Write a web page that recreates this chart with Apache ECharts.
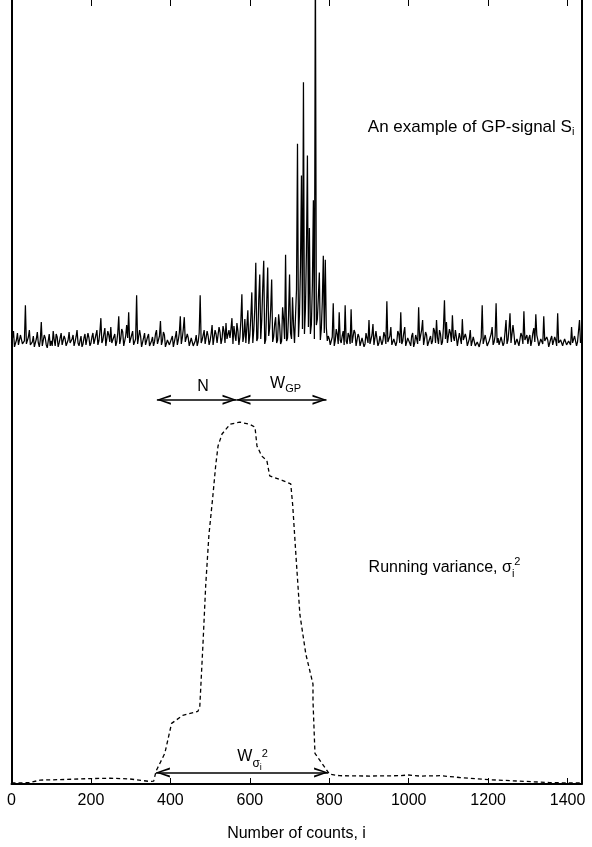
<!DOCTYPE html>
<html>
<head>
<meta charset="utf-8">
<script src="https://cdn.jsdelivr.net/npm/echarts@6/dist/echarts.min.js"></script>
<style>
  html, body { margin: 0; padding: 0; background: #fff; }
  #main { width: 592px; height: 847px; }
</style>
</head>
<body>
<div id="main"></div>
<script>
// GP-signal S_i, one reading every 2.5 counts (height above the noise floor)
const sigStep = 2.5
const signal = [
  0.6, 1.1, 1.8, 0.2, 0.3, 0.9, 1.6, 0.4, 0.2, 1.4, 1.2, 0.5, 0.3, 0.8, 4.4, 0.5, 0.6, 1.2, 1.9, 0.4,
  0.3, 0.7, 1.3, 0.2, 0.6, 1.0, 1.7, 0.6, 0.2, 0.9, 2.7, 0.3, 0.5, 1.4, 1.1, 0.4, 0.1, 0.8, 1.5, 0.3,
  0.8, 0.3, 1.8, 0.9, 0.3, 1.5, 1.2, 0.2, 0.6, 1.1, 1.6, 0.4, 0.2, 1.3, 1.0, 0.3, 0.5, 0.9, 1.7, 0.6,
  0.4, 1.0, 1.4, 0.3, 0.7, 1.2, 1.9, 0.6, 0.3, 0.8, 1.3, 0.2, 0.5, 1.1, 1.5, 0.4, 0.2, 1.6, 1.1, 0.3,
  0.6, 1.2, 1.6, 0.5, 0.3, 1.4, 1.9, 0.4, 0.8, 1.7, 3.1, 0.6, 0.9, 1.5, 2.1, 0.3, 0.4, 1.8, 1.4, 0.7,
  2.2, 0.6, 0.5, 1.2, 1.5, 0.3, 0.7, 1.6, 3.3, 0.5, 1.0, 2.0, 1.7, 0.3, 0.4, 1.3, 2.4, 1.1, 3.7, 0.6,
  0.8, 1.4, 1.8, 0.4, 0.5, 1.0, 5.4, 0.5, 0.7, 1.9, 1.3, 0.2, 0.3, 1.1, 1.6, 0.4, 0.6, 1.2, 1.5, 0.3,
  0.2, 0.8, 1.2, 0.3, 0.7, 1.5, 1.9, 0.5, 0.4, 1.3, 2.8, 0.4, 0.8, 1.7, 1.4, 0.2, 0.1, 0.9, 1.0, 0.4,
  0.5, 1.0, 1.3, 0.2, 0.3, 1.2, 1.8, 0.4, 0.9, 1.6, 3.3, 0.5, 1.1, 2.0, 3.2, 0.7, 0.6, 1.5, 1.1, 0.3,
  0.2, 1.1, 0.9, 0.3, 0.1, 0.8, 1.4, 0.3, 0.7, 1.6, 5.4, 0.6, 0.9, 1.4, 1.9, 0.5, 0.5, 1.8, 1.3, 0.4,
  0.8, 1.5, 2.4, 0.4, 0.5, 1.9, 1.5, 0.6, 0.7, 2.2, 1.7, 0.5, 1.0, 2.3, 1.8, 0.6, 2.6, 1.0, 0.8, 1.9,
  1.1, 2.0, 3.1, 0.5, 2.3, 1.4, 0.8, 2.6, 1.8, 0.4, 1.2, 2.9, 5.5, 0.7, 1.3, 3.0, 0.6, 2.2, 3.9, 0.5,
  1.4, 3.2, 5.7, 0.6, 1.9, 4.1, 8.7, 0.8, 1.1, 5.0, 7.5, 1.0, 2.9, 6.2, 8.9, 0.5, 0.9, 4.6, 8.2, 1.3,
  2.1, 4.0, 7.0, 0.7, 1.2, 2.5, 3.2, 0.6, 0.9, 3.5, 2.4, 0.5, 0.8, 4.2, 3.0, 1.0, 9.5, 0.8, 1.1, 3.4,
  7.5, 1.6, 1.0, 5.2, 2.4, 0.6, 0.8, 6.0, 20.7, 1.2, 3.5, 8.3, 17.5, 2.0, 26.9, 1.5, 4.0, 9.8, 19.5, 2.2,
  12.2, 1.5, 2.5, 6.5, 15.0, 1.0, 40, 2.4, 3.0, 5.2, 7.7, 0.9, 2.0, 4.8, 9.4, 1.6, 9.0, 2.2, 0.8, 1.3,
  1.0, 0.4, 0.3, 1.2, 4.6, 0.3, 0.8, 2.0, 1.5, 0.5, 3.7, 0.9, 0.6, 1.3, 1.8, 0.4, 4.4, 0.8, 0.5, 1.6,
  1.3, 0.5, 4.0, 0.6, 0.7, 1.9, 1.6, 0.3, 0.4, 1.5, 1.2, 0.3, 0.2, 1.1, 1.0, 0.2, 0.5, 1.6, 1.4, 0.6,
  2.9, 0.5, 0.7, 1.4, 2.5, 0.4, 1.1, 1.8, 2.0, 0.3, 0.6, 1.3, 1.5, 0.4, 0.8, 1.7, 1.3, 0.5, 4.8, 0.7,
  0.5, 1.3, 2.2, 0.4, 0.3, 1.0, 1.2, 0.3, 0.7, 1.8, 1.5, 0.6, 3.7, 0.5, 0.8, 1.6, 2.2, 0.3, 0.4, 1.1,
  1.2, 0.6, 0.3, 1.3, 1.6, 0.2, 0.6, 1.4, 1.0, 0.5, 4.2, 0.8, 0.7, 1.9, 2.9, 0.4, 0.5, 1.7, 1.4, 0.3,
  0.4, 1.0, 1.3, 0.5, 0.8, 2.1, 1.8, 0.6, 2.9, 1.1, 0.5, 1.9, 1.5, 0.4, 0.7, 2.2, 4.9, 1.0, 2.7, 0.6,
  0.6, 2.0, 1.6, 0.7, 3.4, 1.2, 0.8, 1.9, 1.2, 0.3, 0.4, 1.6, 1.4, 0.5, 3.0, 0.9, 0.7, 1.5, 1.1, 0.3,
  0.3, 1.0, 1.9, 0.3, 0.5, 1.2, 1.0, 0.3, 0.2, 0.7, 0.9, 0.2, 0.4, 1.1, 4.4, 0.5, 0.6, 1.4, 1.3, 0.3,
  0.3, 0.8, 1.0, 1.5, 2.2, 0.4, 0.7, 1.3, 4.6, 0.6, 1.1, 0.4, 0.4, 1.2, 1.3, 0.3, 0.6, 1.7, 2.9, 0.5,
  0.9, 2.0, 3.6, 0.6, 0.8, 2.4, 1.5, 0.4, 0.3, 1.0, 1.1, 0.3, 0.5, 1.6, 1.3, 0.5, 3.8, 0.9, 0.7, 1.4,
  0.5, 1.1, 1.4, 0.3, 0.8, 1.6, 2.1, 0.7, 3.5, 1.4, 0.9, 0.3, 0.4, 1.0, 1.2, 0.5, 3.3, 0.8, 0.6, 1.2,
  0.9, 0.2, 0.3, 1.0, 1.3, 0.4, 0.5, 1.2, 0.9, 0.3, 3.6, 0.6, 0.4, 0.9, 1.1, 0.3, 0.7, 1.0, 1.2, 0.4,
  0.3, 0.8, 1.0, 0.4, 2.2, 0.6, 0.5, 1.3, 1.1, 0.3, 0.7, 1.8, 2.9, 0.6
]

// running variance, read at the corners of the dashed curve
const varCounts = [0, 21, 47, 72, 122, 197, 248, 298, 348, 358, 364, 386, 403, 431, 469, 474,
  482, 489, 497, 507, 514, 520, 530, 550, 575, 600, 613, 618, 630, 643, 650, 683, 703,
  708, 716, 726, 741, 759, 759, 764, 794, 801, 826, 902, 977, 1000, 1028, 1081, 1128,
  1201, 1279, 1355, 1400, 1433]
const varValues = [0.3, 0.3, 0.4, 1.1, 1.2, 1.5, 1.6, 1.4, 0.7, 0.8, 3.6, 8.5, 16.8, 19.0, 20.1, 21.4,
  38.7, 55.2, 69.0, 79.9, 88.2, 93.7, 97.0, 99.7, 100.3, 99.7, 98.9, 93.7, 90.9, 89.6, 85.4, 84.1, 83.2,
  77.2, 63.5, 47.0, 36.0, 27.7, 23.1, 8.5, 3.8, 2.7, 2.3, 2.2, 2.3, 2.5, 2.2, 2.3, 1.8,
  1.2, 0.8, 0.4, 0.3, 0.3]

// arrows: [from, to] in counts, height in variance units
const nArrow = [366, 566.5]
const wgpArrow = [566.5, 793]
const wsArrow = [363.5, 797]
const topArrowLevel = 106.5
const bottomArrowLevel = 3.2

const xMax = 1435
const xTickStep = 200

const font = '"Liberation Sans", Arial, sans-serif'
const arrowHead = 'path://M5,0 L10,16 L8,16 L5,4.5 L2,16 L0,16 Z'

const rich = {
  t: { fontFamily: font, fontSize: 16, color: '#000' },
  big: { fontFamily: font, fontSize: 17, color: '#000' },
  sub: { fontFamily: font, fontSize: 11, color: '#000', padding: [10, 0, 0, 0] },
  isub: { fontFamily: font, fontSize: 11, color: '#000', padding: [12, 0, 0, 0] },
  sup: { fontFamily: font, fontSize: 11, color: '#000', padding: [0, 0, 12, 0] },
  sig: { fontFamily: font, fontSize: 12, color: '#000', padding: [14, 0, 0, 0] },
  ssub: { fontFamily: font, fontSize: 9, color: '#000', padding: [22, 0, 0, 0] },
  ssup: { fontFamily: font, fontSize: 11, color: '#000', padding: [0, 0, 6, 0] }
}

const chart = echarts.init(document.getElementById('main'))
const option = {
  animation: false,
  grid: { left: 11.5, right: 10.5, top: 0, bottom: 56 },
  xAxis: [
    {
      type: 'value', min: 0, max: xMax, interval: xTickStep, position: 'bottom',
      name: 'Number of counts, i', nameLocation: 'middle', nameGap: 42,
      nameTextStyle: { fontFamily: font, fontSize: 16, color: '#000' },
      axisLine: { onZero: false, lineStyle: { color: '#000', width: 2 } },
      axisTick: { inside: true, length: 6, lineStyle: { color: '#000', width: 1 } },
      axisLabel: {
        margin: 9, fontFamily: font, fontSize: 16, color: '#000', showMaxLabel: false,
        formatter: v => String(v)
      },
      splitLine: { show: false }
    },
    {
      type: 'value', min: 0, max: xMax, interval: xTickStep, position: 'top',
      axisLine: { show: false, onZero: false },
      axisTick: { inside: true, length: 6, lineStyle: { color: '#000', width: 1 } },
      axisLabel: { show: false },
      splitLine: { show: false }
    }
  ],
  yAxis: [
    {
      type: 'value', min: -43.9, max: 35.2, position: 'left',
      axisLine: { show: true, onZero: false, lineStyle: { color: '#000', width: 2 } },
      axisTick: { show: false }, axisLabel: { show: false }, splitLine: { show: false }
    },
    {
      type: 'value', min: 0, max: 217.3, position: 'right',
      axisLine: { show: true, onZero: false, lineStyle: { color: '#000', width: 2 } },
      axisTick: { show: false }, axisLabel: { show: false }, splitLine: { show: false }
    }
  ],
  series: [
    {
      name: 'signal',
      type: 'line',
      xAxisIndex: 0,
      yAxisIndex: 0,
      data: signal.map((v, i) => [i * sigStep, v]),
      showSymbol: false,
      clip: true,
      lineStyle: { color: '#000', width: 1.25 },
      markPoint: {
        silent: true, symbol: 'circle', symbolSize: 0,
        itemStyle: { color: 'rgba(0,0,0,0)' },
        label: { show: true, position: 'right', distance: 0, rich: rich },
        data: [
          { coord: [897, 22.4], label: { formatter: '{big|An example of GP-signal S}{sub|i}' } }
        ]
      }
    },
    {
      name: 'variance',
      type: 'line',
      xAxisIndex: 0,
      yAxisIndex: 1,
      data: varCounts.map((c, i) => [c, varValues[i]]),
      showSymbol: false,
      lineStyle: { color: '#000', width: 1.3, type: [4, 3] },
      markLine: {
        silent: true,
        symbol: [arrowHead, arrowHead],
        symbolSize: [10, 14],
        symbolOffset: [[0, 7], [0, 7]],
        lineStyle: { color: '#000', width: 1.5, type: 'solid' },
        label: { show: false },
        emphasis: { disabled: true },
        data: [
          [{ coord: [nArrow[0], topArrowLevel] }, { coord: [nArrow[1], topArrowLevel] }],
          [{ coord: [wgpArrow[0], topArrowLevel] }, { coord: [wgpArrow[1], topArrowLevel] }],
          [{ coord: [wsArrow[0], bottomArrowLevel] }, { coord: [wsArrow[1], bottomArrowLevel] }]
        ]
      },
      markPoint: {
        silent: true, symbol: 'circle', symbolSize: 0,
        itemStyle: { color: 'rgba(0,0,0,0)' },
        label: { show: true, position: 'inside', rich: rich },
        data: [
          { coord: [482, 110.2], label: { formatter: '{t|N}' } },
          { coord: [690, 111.0], label: { formatter: '{t|W}{sub|GP}' } },
          { coord: [607, 7.6], label: { formatter: '{t|W}{sig|σ}{ssub|i}{ssup|2}' } },
          { coord: [899, 59.9], label: { position: 'right', distance: 0, formatter: '{t|Running variance, σ}{isub|i}{sup|2}' } }
        ]
      }
    }
  ]
}
chart.setOption(option)
</script>
</body>
</html>
